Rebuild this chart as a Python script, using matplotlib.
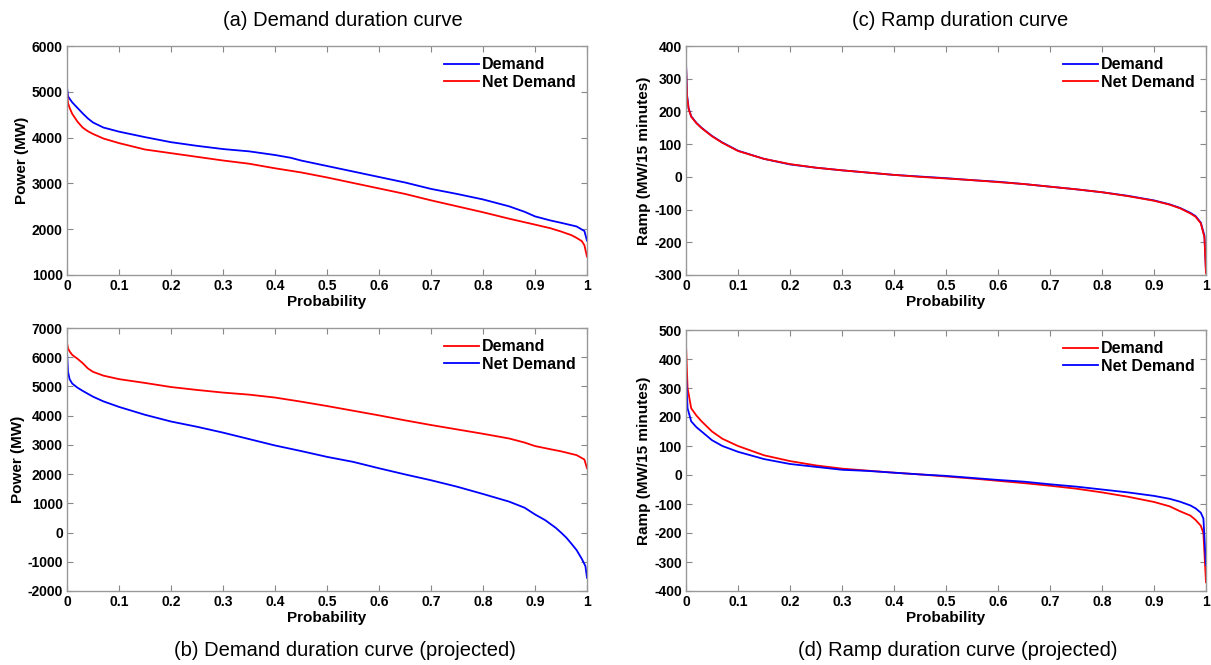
import matplotlib.pyplot as plt
from matplotlib.ticker import FormatStrFormatter, MultipleLocator

plt.rcParams['font.family'] = ['Liberation Sans', 'DejaVu Sans']
plt.rcParams['axes.unicode_minus'] = False

# --- data ---
# (a) demand duration curve
p_a_dem = [0, 0.002, 0.005, 0.01, 0.02, 0.03, 0.04, 0.05, 0.07, 0.1, 0.15, 0.2, 0.25, 0.3, 0.35,
           0.4, 0.43, 0.45, 0.5, 0.55, 0.6, 0.65, 0.7, 0.75, 0.8, 0.85, 0.88, 0.9, 0.93, 0.95,
           0.98, 0.995, 1.0]
a_dem = [5100, 4900, 4850, 4770, 4650, 4530, 4420, 4330, 4220, 4130, 4010, 3900, 3820, 3750, 3700,
         3620, 3560, 3500, 3380, 3260, 3140, 3020, 2880, 2770, 2650, 2500, 2380, 2280, 2190, 2140,
         2060, 1960, 1750]
p_a_net = [0, 0.002, 0.005, 0.01, 0.02, 0.03, 0.04, 0.05, 0.07, 0.1, 0.15, 0.2, 0.25, 0.3, 0.35,
           0.4, 0.45, 0.5, 0.55, 0.6, 0.65, 0.7, 0.75, 0.8, 0.85, 0.9, 0.93, 0.95, 0.97, 0.98,
           0.99, 0.995, 1.0]
a_net = [5000, 4750, 4650, 4520, 4350, 4220, 4140, 4080, 3980, 3880, 3740, 3660, 3580, 3500, 3430,
         3330, 3240, 3130, 3010, 2890, 2770, 2630, 2500, 2370, 2230, 2100, 2020, 1950, 1870, 1810,
         1740, 1650, 1400]

# (b) demand duration curve (projected)
p_b_dem = [0, 0.002, 0.005, 0.01, 0.02, 0.03, 0.04, 0.05, 0.07, 0.1, 0.15, 0.2, 0.25, 0.3, 0.35,
           0.4, 0.45, 0.5, 0.55, 0.6, 0.65, 0.7, 0.75, 0.8, 0.85, 0.88, 0.9, 0.93, 0.95, 0.98,
           0.995, 1.0]
b_dem = [6500, 6300, 6200, 6080, 5950, 5800, 5620, 5500, 5370, 5250, 5120, 4980, 4880, 4790, 4720,
         4620, 4480, 4330, 4170, 4010, 3840, 3680, 3530, 3380, 3220, 3080, 2960, 2850, 2780, 2650,
         2500, 2200]
p_b_net = [0, 0.002, 0.005, 0.01, 0.02, 0.03, 0.05, 0.07, 0.1, 0.15, 0.2, 0.25, 0.3, 0.35, 0.4,
           0.45, 0.5, 0.55, 0.6, 0.65, 0.7, 0.75, 0.8, 0.85, 0.88, 0.9, 0.92, 0.94, 0.95, 0.96,
           0.97, 0.98, 0.99, 0.997, 1.0]
b_net = [6200, 5500, 5250, 5100, 4960, 4850, 4650, 4490, 4300, 4030, 3800, 3620, 3420, 3200, 2980,
         2790, 2590, 2420, 2200, 1990, 1790, 1570, 1320, 1060, 850, 620, 420, 160, 0, -170,
         -380, -600, -900, -1150, -1550]

# (c) ramp duration curve
p_c = [0, 0.002, 0.005, 0.01, 0.02, 0.03, 0.05, 0.07, 0.1, 0.15, 0.2, 0.25, 0.3, 0.35, 0.4, 0.45,
       0.5, 0.55, 0.6, 0.65, 0.7, 0.75, 0.8, 0.85, 0.9, 0.93, 0.95, 0.97, 0.98, 0.99, 0.997, 1.0]
c_dem = [350, 250, 210, 185, 165, 150, 125, 105, 80, 55, 38, 28, 20, 13, 6, 1,
         -4, -10, -15, -22, -30, -38, -47, -58, -72, -84, -95, -110, -120, -140, -180, -290]
c_net = [345, 245, 208, 184, 164, 149, 124, 104, 79, 55, 39, 28, 20, 13, 6, 0,
         -5, -10, -16, -22, -30, -38, -47, -59, -73, -85, -96, -112, -122, -142, -185, -295]

# (d) ramp duration curve (projected)
p_d = [0, 0.003, 0.01, 0.02, 0.03, 0.05, 0.07, 0.1, 0.15, 0.2, 0.25, 0.3, 0.35, 0.4, 0.45, 0.5,
       0.55, 0.6, 0.65, 0.7, 0.75, 0.8, 0.85, 0.9, 0.93, 0.95, 0.97, 0.98, 0.99, 0.995, 1.0]
d_dem = [450, 300, 230, 205, 185, 150, 125, 100, 68, 48, 33, 22, 15, 8, 2, -5,
         -12, -20, -28, -37, -47, -60, -75, -93, -108, -125, -140, -155, -175, -200, -370]
d_net = [350, 230, 185, 165, 150, 120, 100, 80, 55, 38, 28, 18, 14, 8, 2, -3,
         -10, -17, -23, -32, -40, -50, -60, -72, -82, -92, -105, -115, -130, -150, -310]

# --- figure ---
fig = plt.figure(figsize=(12.11, 6.65), dpi=100)
W, H = 1211, 665

def px_axes(x0, y0, x1, y1):
    return fig.add_axes([x0 / W, 1 - y1 / H, (x1 - x0) / W, (y1 - y0) / H])

ax_a = px_axes(67, 46, 587, 275)
ax_c = px_axes(686, 46, 1206, 275)
ax_b = px_axes(67, 328, 587, 591)
ax_d = px_axes(686, 330, 1206, 591)

ax_a.plot(p_a_dem, a_dem, color='#0000ff', lw=1.3, label='Demand')
ax_a.plot(p_a_net, a_net, color='#ff0000', lw=1.3, label='Net Demand')
ax_a.set_ylim(1000, 6000)
ax_a.yaxis.set_major_locator(MultipleLocator(1000))
ax_a.set_ylabel('Power (MW)')

ax_c.plot(p_c, c_dem, color='#0000ff', lw=1.3, label='Demand')
ax_c.plot(p_c, c_net, color='#ff0000', lw=1.3, label='Net Demand')
ax_c.set_ylim(-300, 400)
ax_c.yaxis.set_major_locator(MultipleLocator(100))
ax_c.set_ylabel('Ramp (MW/15 minutes)')

ax_b.plot(p_b_dem, b_dem, color='#ff0000', lw=1.3, label='Demand')
ax_b.plot(p_b_net, b_net, color='#0000ff', lw=1.3, label='Net Demand')
ax_b.set_ylim(-2000, 7000)
ax_b.yaxis.set_major_locator(MultipleLocator(1000))
ax_b.set_ylabel('Power (MW)')

ax_d.plot(p_d, d_dem, color='#ff0000', lw=1.3, label='Demand')
ax_d.plot(p_d, d_net, color='#0000ff', lw=1.3, label='Net Demand')
ax_d.set_ylim(-400, 500)
ax_d.yaxis.set_major_locator(MultipleLocator(100))
ax_d.set_ylabel('Ramp (MW/15 minutes)')

for ax in (ax_a, ax_b, ax_c, ax_d):
    ax.set_xlim(0, 1)
    ax.xaxis.set_major_locator(MultipleLocator(0.1))
    ax.xaxis.set_major_formatter(FormatStrFormatter('%g'))
    ax.set_xlabel('Probability', fontsize=11, fontweight='bold', labelpad=1)
    ax.yaxis.label.set_fontsize(11)
    ax.yaxis.label.set_fontweight('bold')
    ax.yaxis.labelpad = 2
    ax.tick_params(direction='in', length=4, width=0.8, color='#888888',
                   top=True, right=True, labelsize=10, pad=3)
    for lab in ax.get_xticklabels() + ax.get_yticklabels():
        lab.set_fontweight('bold')
    for s in ax.spines.values():
        s.set_color('#999999')
        s.set_linewidth(1.0)
    ax.legend(loc='upper right', frameon=False, prop={'size': 11.5, 'weight': 'bold'},
              handlelength=2.2, handletextpad=0.2, labelspacing=0.15, borderaxespad=0.3)

# sub-figure captions
fig.text(343 / W, 1 - 21 / H, '(a) Demand duration curve', ha='center', va='center', fontsize=14.5)
fig.text(960 / W, 1 - 21 / H, '(c) Ramp duration curve', ha='center', va='center', fontsize=14.5)
fig.text(345 / W, 1 - 650 / H, '(b) Demand duration curve (projected)', ha='center', va='center', fontsize=14.5)
fig.text(958 / W, 1 - 650 / H, '(d) Ramp duration curve (projected)', ha='center', va='center', fontsize=14.5)

fig.savefig('out.png', dpi=100)
